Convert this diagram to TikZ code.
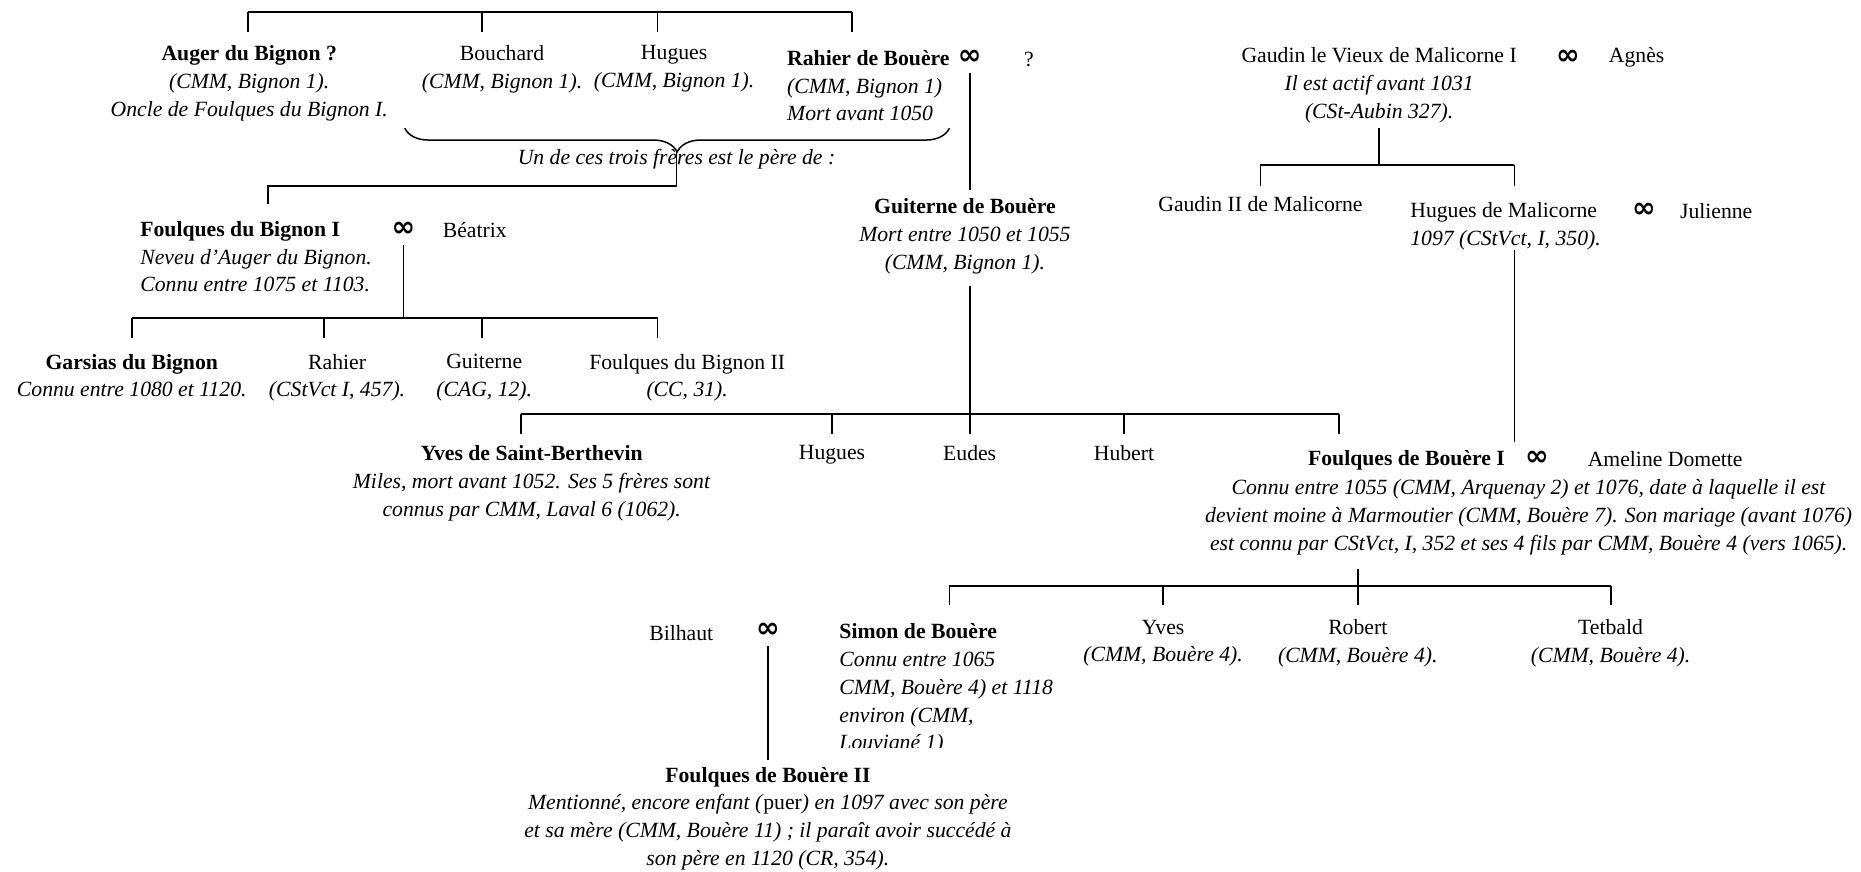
\documentclass[tikz,border=0pt]{standalone}
\usepackage{fontspec}
\setmainfont{Liberation Serif}
\newfontfamily\symfont{DejaVu Sans}
\usetikzlibrary{decorations.pathreplacing}

\begin{document}
\begin{tikzpicture}[
    x=0.025cm, y=-0.025cm,
    every node/.style={inner sep=0pt, font=\fontsize{13pt}{16.7pt}\selectfont},
    person/.style={anchor=north, align=center},
    personl/.style={anchor=north west, align=left},
    marr/.style={inner ysep=0.17cm, font=\fontsize{17pt}{17pt}\selectfont\symfont\bfseries},
    link/.style={line width=1.1pt}
  ]
  \useasboundingbox (0,0) rectangle (1568,734);

  % les quatre freres
  \node[person] (auger) at (210,38) {\textbf{Auger du Bignon ?}\\\textit{(CMM, Bignon 1).}\\\textit{Oncle de Foulques du Bignon I.}};
  \node[person] (bouchard) at (423,38) {Bouchard\\\textit{(CMM, Bignon 1).}};
  \node[person] (hugues) at (568,38) {Hugues\\\textit{(CMM, Bignon 1).}};
  \node[personl] (rahierb) at (663,42) {\textbf{Rahier de Bouère}\\\textit{(CMM, Bignon 1)}\\\textit{Mort avant 1050}};
  \node[marr] (m1) at (817,48) {∞};
  \node (q1) at (867,50) {?};

  \coordinate (t1) at (209,10);
  \coordinate (t2) at (406,10);
  \coordinate (t3) at (554,10);
  \coordinate (t4) at (718,10);
  \draw[link] (t1) -- (t4);
  \draw[link, shorten >=0.275cm] (t1) -- (t1 |- auger.north);
  \draw[link, shorten >=0.275cm] (t2) -- (t2 |- bouchard.north);
  \draw[link, shorten >=0.275cm] (t3) -- (t3 |- hugues.north);
  \draw[link, shorten >=0.375cm] (t4) -- (t4 |- rahierb.north);

  % accolade
  \draw[line width=0.9pt, decorate, decoration={brace, amplitude=0.5cm}] (800,108) -- (341,108);
  \coordinate (tip) at (570,128);
  \node (trois) at (570,134) {\textit{Un de ces trois frères est le père de :}};

  % branche du Bignon
  \node[personl] (foulb1) at (118,186) {\textbf{Foulques du Bignon I}\\\textit{Neveu d’Auger du Bignon.}\\\textit{Connu entre 1075 et 1103.}};
  \node[marr] (m2) at (340,193) {∞};
  \node (beatrix) at (400,194) {Béatrix};

  \coordinate (j1) at (570,157);
  \coordinate (j2) at (226,157);
  \draw[link, shorten >=0.35cm] (tip) -- (j1) -- (j2) -- (j2 |- foulb1.north);

  \node[person] (garsias) at (111,298) {\textbf{Garsias du Bignon}\\\textit{Connu entre 1080 et 1120.}};
  \node[person] (rahier) at (284,298) {Rahier\\\textit{(CStVct I, 457).}};
  \node[person] (guiterne) at (408,298) {Guiterne\\\textit{(CAG, 12).}};
  \node[person] (foulb2) at (579,298) {Foulques du Bignon II\\\textit{(CC, 31).}};

  \coordinate (b1) at (111,268);
  \coordinate (b2) at (273,268);
  \coordinate (b3) at (406,268);
  \coordinate (b4) at (554,268);
  \draw[link] (m2.south) -- (m2.south |- b1);
  \draw[link] (b1) -- (b4);
  \draw[link, shorten >=0.325cm] (b1) -- (b1 |- garsias.north);
  \draw[link, shorten >=0.325cm] (b2) -- (b2 |- rahier.north);
  \draw[link, shorten >=0.325cm] (b3) -- (b3 |- guiterne.north);
  \draw[link, shorten >=0.325cm] (b4) -- (b4 |- foulb2.north);

  % branche de Bouere
  \node[person] (guiterneb) at (813,167) {\textbf{Guiterne de Bouère}\\\textit{Mort entre 1050 et 1055}\\\textit{(CMM, Bignon 1).}};
  \draw[link, shorten >=0.175cm] (m1.south) -- (m1.south |- guiterneb.north);

  \node[person] (yvessb) at (448,375) {\textbf{Yves de Saint-Berthevin}\\\textit{Miles, mort avant 1052. Ses 5 frères sont}\\\textit{connus par CMM, Laval 6 (1062).}};
  \node[person] (hugues2) at (701,375) {Hugues};
  \node[person] (eudes) at (817,375) {Eudes};
  \node[person] (hubert) at (947,375) {Hubert};
  \node[person] (foulq1) at (1185,379) {\textbf{Foulques de Bouère I}};
  \node[marr] (m4) at (1295,386) {∞};
  \node (ameline) at (1403,387) {Ameline Domette};
  \node[person] (foulq1d) at (1288,404) {\textit{Connu entre 1055 (CMM, Arquenay 2) et 1076, date à laquelle il est}\\\textit{devient moine à Marmoutier (CMM, Bouère 7). Son mariage (avant 1076)}\\\textit{est connu par CStVct, I, 352 et ses 4 fils par CMM, Bouère 4 (vers 1065).}};

  \coordinate (g1) at (439,349);
  \coordinate (g2) at (701,349);
  \coordinate (g3) at (817,349);
  \coordinate (g4) at (947,349);
  \coordinate (g5) at (1128,349);
  \draw[link, shorten <=0.25cm] (guiterneb.south -| m1) -- (g3);
  \draw[link] (g1) -- (g5);
  \draw[link, shorten >=0.225cm] (g1) -- (g1 |- yvessb.north);
  \draw[link, shorten >=0.225cm] (g2) -- (g2 |- hugues2.north);
  \draw[link, shorten >=0.225cm] (g3) -- (g3 |- eudes.north);
  \draw[link, shorten >=0.225cm] (g4) -- (g4 |- hubert.north);
  \draw[link, shorten >=0.325cm] (g5) -- (g5 |- foulq1.north);

  % Malicorne
  \node[person] (gaudin) at (1162,40) {Gaudin le Vieux de Malicorne I\\\textit{Il est actif avant 1031}\\\textit{(CSt-Aubin 327).}};
  \node[marr] (m3) at (1321,48) {∞};
  \node (agnes) at (1379,48) {Agnès};
  \node[person] (gaudin2) at (1062,165) {Gaudin II de Malicorne};
  \node[personl] (hugmal) at (1188,170) {Hugues de Malicorne\\\textit{1097 (CStVct, I, 350).}};
  \node[marr] (m5) at (1385,177) {∞};
  \node (julienne) at (1446,178) {Julienne};

  \coordinate (a1) at (1062,139);
  \coordinate (a2) at (1276,139);
  \draw[link, shorten <=0.1cm] (gaudin.south) -- (gaudin.south |- a1);
  \draw[link] (a1) -- (a2);
  \draw[link, shorten >=0.2cm] (a1) -- (a1 |- gaudin2.north);
  \draw[link, shorten >=0.325cm] (a2) -- (a2 |- hugmal.north);
  \draw[link, shorten >=0.175cm] (a2 |- hugmal.south) -- (a2 |- foulq1.north);

  % enfants de Foulques de Bouere I
  \begin{scope}
    \clip (690,500) rectangle (900,630);
    \node[personl] (simon) at (707,525) {\textbf{Simon de Bouère}\\\textit{Connu entre 1065}\\\textit{CMM, Bouère 4) et 1118}\\\textit{environ (CMM,}\\\textit{Louvigné 1)}};
  \end{scope}
  \node[person] (yves2) at (980,522) {Yves\\\textit{(CMM, Bouère 4).}};
  \node[person] (robert) at (1144,522) {Robert\\\textit{(CMM, Bouère 4).}};
  \node[person] (tetbald) at (1357,522) {Tetbald\\\textit{(CMM, Bouère 4).}};
  \node (bilhaut) at (574,533) {Bilhaut};
  \node[marr] (m6) at (647,531) {∞};

  \coordinate (s1) at (800,494);
  \coordinate (s2) at (980,494);
  \coordinate (s3) at (1144,494);
  \coordinate (s4) at (1357,494);
  \draw[link, shorten <=0.275cm] (foulq1d.south -| s3) -- (s3);
  \draw[link] (s1) -- (s4);
  \draw[link, shorten >=0.375cm] (s1) -- (s1 |- simon.north);
  \draw[link, shorten >=0.3cm] (s2) -- (s2 |- yves2.north);
  \draw[link, shorten >=0.3cm] (s3) -- (s3 |- robert.north);
  \draw[link, shorten >=0.3cm] (s4) -- (s4 |- tetbald.north);

  \node[person] (foulq2) at (647,646) {\textbf{Foulques de Bouère II}\\\textit{Mentionné, encore enfant (}puer\textit{) en 1097 avec son père}\\\textit{et sa mère (CMM, Bouère 11) ; il paraît avoir succédé à}\\\textit{son père en 1120 (CR, 354).}};
  \draw[link, shorten >=0.15cm] (m6.south) -- (m6.south |- foulq2.north);
\end{tikzpicture}
\end{document}
